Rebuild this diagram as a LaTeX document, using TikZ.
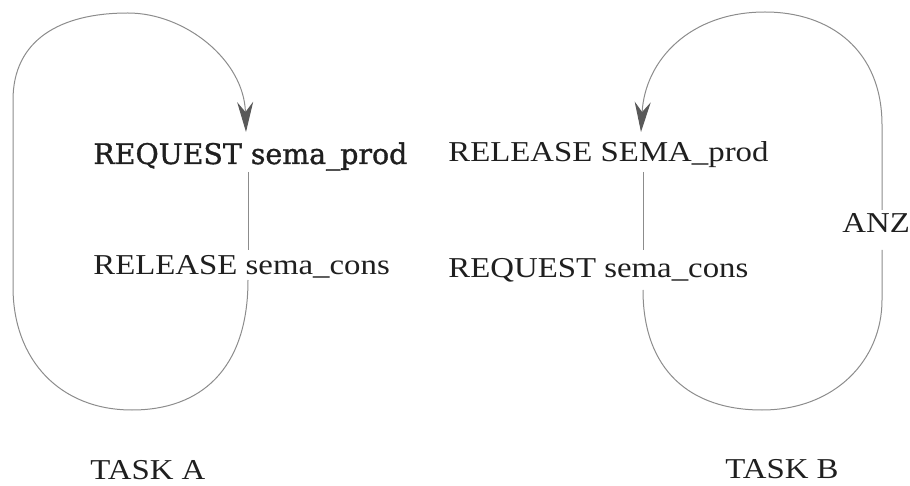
\documentclass[tikz,border=0pt]{standalone}
\usepackage{fontspec}
\setmainfont{Liberation Serif}[FakeStretch=1.14]
\newfontfamily\wideserif{DejaVu Serif}[FakeBold=1.2]
\usetikzlibrary{arrows.meta}
\tikzstyle{txt} = [anchor=base west, inner sep=0pt, text=black!88, font=\fontsize{14.4}{16}\selectfont]
\tikzstyle{wide txt} = [txt, font=\wideserif\fontsize{14.2}{17}\selectfont]
\tikzstyle{track} = [draw=black!45, line width=0.5pt]
\tikzstyle{arrow} = [track, -{Stealth[length=15pt, width=8pt, inset=5pt, color=black!65]}]

\begin{document}
\begin{tikzpicture}[x=0.5pt, y=-0.5pt]
        \useasboundingbox (0,0) rectangle (910,486);

        % task A
        \node (request_a) [wide txt] at (93,164) {REQUEST sema\_prod};
        \node (release_a) [txt] at (93,275) {RELEASE sema\_cons};
        \node (task_a) [txt] at (90,479) {TASK A};
        % task B
        \node (release_b) [txt] at (448,162) {RELEASE SEMA\_prod};
        \node (request_b) [txt] at (448,278) {REQUEST sema\_cons};
        \node (anz) [txt] at (842,233) {ANZ};
        \node (task_b) [txt] at (725,478) {TASK B};

        \coordinate (a_in) at (246,132);
        \coordinate (a_top) at (248,172);
        \coordinate (a_mid) at (248,250);
        \coordinate (a_low) at (248,280);
        \coordinate (b_in) at (641,132);
        \coordinate (b_top) at (643,172);
        \coordinate (b_mid) at (643,250);
        \coordinate (b_low) at (643,290);
        \coordinate (anz_up) at (882,210);
        \coordinate (anz_down) at (882,250);

        \draw [track] (a_top) -- (a_mid);
        \draw [arrow] (a_low) .. controls (248,370) and (200,410) .. (132,410)
                .. controls (60,410) and (13,360) .. (13,287) -- (13,100)
                .. controls (13,40) and (60,13) .. (128,13)
                .. controls (185,13) and (244,60) .. (a_in);

        \draw [track] (b_top) -- (b_mid);
        \draw [track] (b_low) .. controls (643,370) and (690,410) .. (762,410)
                .. controls (835,410) and (882,360) .. (882,300) -- (anz_down);
        \draw [arrow] (anz_up) -- (882,125)
                .. controls (882,50) and (830,12) .. (765,12)
                .. controls (690,12) and (645,60) .. (b_in);
\end{tikzpicture}
\end{document}
